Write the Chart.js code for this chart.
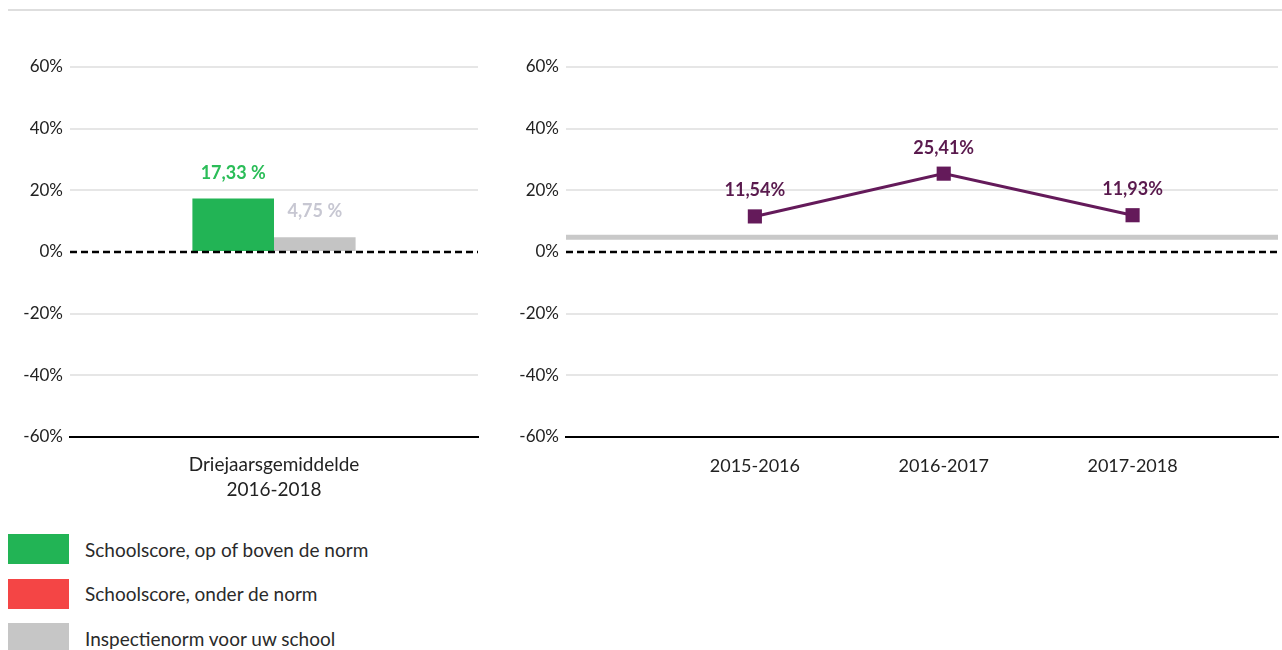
<!DOCTYPE html>
<html>
<head>
<meta charset="utf-8">
<script src="https://cdn.jsdelivr.net/npm/chart.js@4"></script>
<style>
  body{margin:0;background:#fff;font-family:Lato, sans-serif;overflow:hidden;width:1282px;height:650px;position:relative}
  .topline{position:absolute;left:8px;right:0;top:9px;height:2px;background:#dedede}
  #avgWrap{position:absolute;left:0;top:40px;width:490px;height:470px}
  #trendWrap{position:absolute;left:496px;top:40px;width:792px;height:470px}
  .legend{position:absolute;left:8px;top:534px}
  .legend .item{display:flex;align-items:center;height:30px;margin-bottom:14.5px}
  .legend .sw{width:61px;height:30px;margin-right:16px}
  .legend span{font-size:19px;color:#2a2a2a}
</style>
</head>
<body>
<div class="topline"></div>
<div id="avgWrap"><canvas id="avgChart"></canvas></div>
<div id="trendWrap"><canvas id="trendChart"></canvas></div>
<div class="legend">
  <div class="item"><div class="sw" style="background:#22b455"></div><span>Schoolscore, op of boven de norm</span></div>
  <div class="item"><div class="sw" style="background:#f44545"></div><span>Schoolscore, onder de norm</span></div>
  <div class="item"><div class="sw" style="background:#c6c6c6"></div><span>Inspectienorm voor uw school</span></div>
</div>
<script>
// data
const avgLabel = [['Driejaarsgemiddelde', '2016-2018']];
const avgScore = [17.33];
const avgNorm = [4.75];
const years = ['2015-2016', '2016-2017', '2017-2018'];
const yearScores = [11.54, 25.41, 11.93];
const normValue = 4.75;
const yTicks = [-60, -40, -20, 0, 20, 40, 60];

const FONT = 'Lato, sans-serif';
const fmt = v => v.toFixed(2).replace('.', ',');

// dashed zero line
const zeroLine = {
  id: 'zeroLine',
  afterDatasetsDraw(chart){
    const {ctx, chartArea, scales} = chart;
    const y = Math.round(scales.y.getPixelForValue(0));
    ctx.save();
    ctx.strokeStyle = '#000';
    ctx.lineWidth = 2.5;
    ctx.setLineDash([7, 4]);
    ctx.beginPath();
    ctx.moveTo(chartArea.left, y);
    ctx.lineTo(chartArea.right, y);
    ctx.stroke();
    ctx.restore();
  }
};

// value labels above bars / points
const valueLabels = {
  id: 'valueLabels',
  afterDatasetsDraw(chart){
    const ctx = chart.ctx;
    ctx.save();
    ctx.textAlign = 'center';
    ctx.textBaseline = 'alphabetic';
    chart.data.datasets.forEach((ds, i) => {
      if(!ds.labelColor) return;
      chart.getDatasetMeta(i).data.forEach((el, j) => {
        const v = ds.data[j];
        const val = typeof v === 'object' ? v.y : v;
        ctx.fillStyle = ds.labelColor;
        ctx.font = 'bold 18px ' + FONT;
        ctx.fillText(fmt(val) + ds.labelSuffix, el.x, el.y - 20);
      });
    });
    ctx.restore();
  }
};

function yScale(){
  return {
    min: -60, max: 60,
    afterBuildTicks: s => { s.ticks = yTicks.map(v => ({value: v})); },
    afterFit: s => { s.width = 70; },
    border: {display: false},
    grid: {
      color: c => c.tick.value === 0 ? 'rgba(0,0,0,0)' : (c.tick.value === -60 ? '#000' : '#e6e6e6'),
      lineWidth: 2,
      drawTicks: false
    },
    ticks: {
      padding: 7,
      color: '#222',
      font: {family: FONT, size: 17},
      callback: v => v + '%'
    }
  };
}

// left: three-year average
new Chart(document.getElementById('avgChart'), {
  type: 'bar',
  data: {
    labels: avgLabel,
    datasets: [
      {data: avgScore, backgroundColor: '#22b455', labelColor: '#2bbd58', labelSuffix: ' %'},
      {data: avgNorm, backgroundColor: '#c4c4c4', labelColor: '#c7c7d2', labelSuffix: ' %'}
    ]
  },
  options: {
    animation: false,
    responsive: true,
    maintainAspectRatio: false,
    layout: {padding: {top: 27, right: 12, bottom: 0, left: 0}},
    plugins: {legend: {display: false}, tooltip: {enabled: false}},
    datasets: {bar: {categoryPercentage: 0.4, barPercentage: 1}},
    scales: {
      x: {
        afterFit: s => { s.height = 73; },
        border: {color: '#000', width: 2},
        grid: {display: false},
        ticks: {padding: 8, color: '#222', font: {family: FONT, size: 19, lineHeight: 1.3}}
      },
      y: yScale()
    }
  },
  plugins: [zeroLine, valueLabels]
});

// right: yearly scores
const xMax = 3.77;
new Chart(document.getElementById('trendChart'), {
  type: 'line',
  data: {
    datasets: [
      {
        data: yearScores.map((v, i) => ({x: i + 1, y: v})),
        borderColor: '#641a5a', backgroundColor: '#641a5a', borderWidth: 3,
        pointStyle: 'rect', pointRadius: 10, pointBorderWidth: 0,
        labelColor: '#5a1a4e', labelSuffix: '%', order: 1
      },
      {
        data: [{x: 0, y: normValue}, {x: xMax, y: normValue}],
        borderColor: '#c9c9c9', borderWidth: 5, pointRadius: 0, order: 2
      }
    ]
  },
  options: {
    animation: false,
    responsive: true,
    maintainAspectRatio: false,
    layout: {padding: {top: 27, right: 0, bottom: 0, left: 0}},
    plugins: {legend: {display: false}, tooltip: {enabled: false}},
    scales: {
      x: {
        type: 'linear', min: 0, max: xMax,
        afterBuildTicks: s => { s.ticks = years.map((y, i) => ({value: i + 1})); },
        afterFit: s => { s.height = 73; },
        border: {color: '#000', width: 2},
        grid: {display: false},
        ticks: {padding: 10, color: '#222', font: {family: FONT, size: 18}, callback: v => years[v - 1] || ''}
      },
      y: yScale()
    }
  },
  plugins: [zeroLine, valueLabels]
});
</script>
</body>
</html>
